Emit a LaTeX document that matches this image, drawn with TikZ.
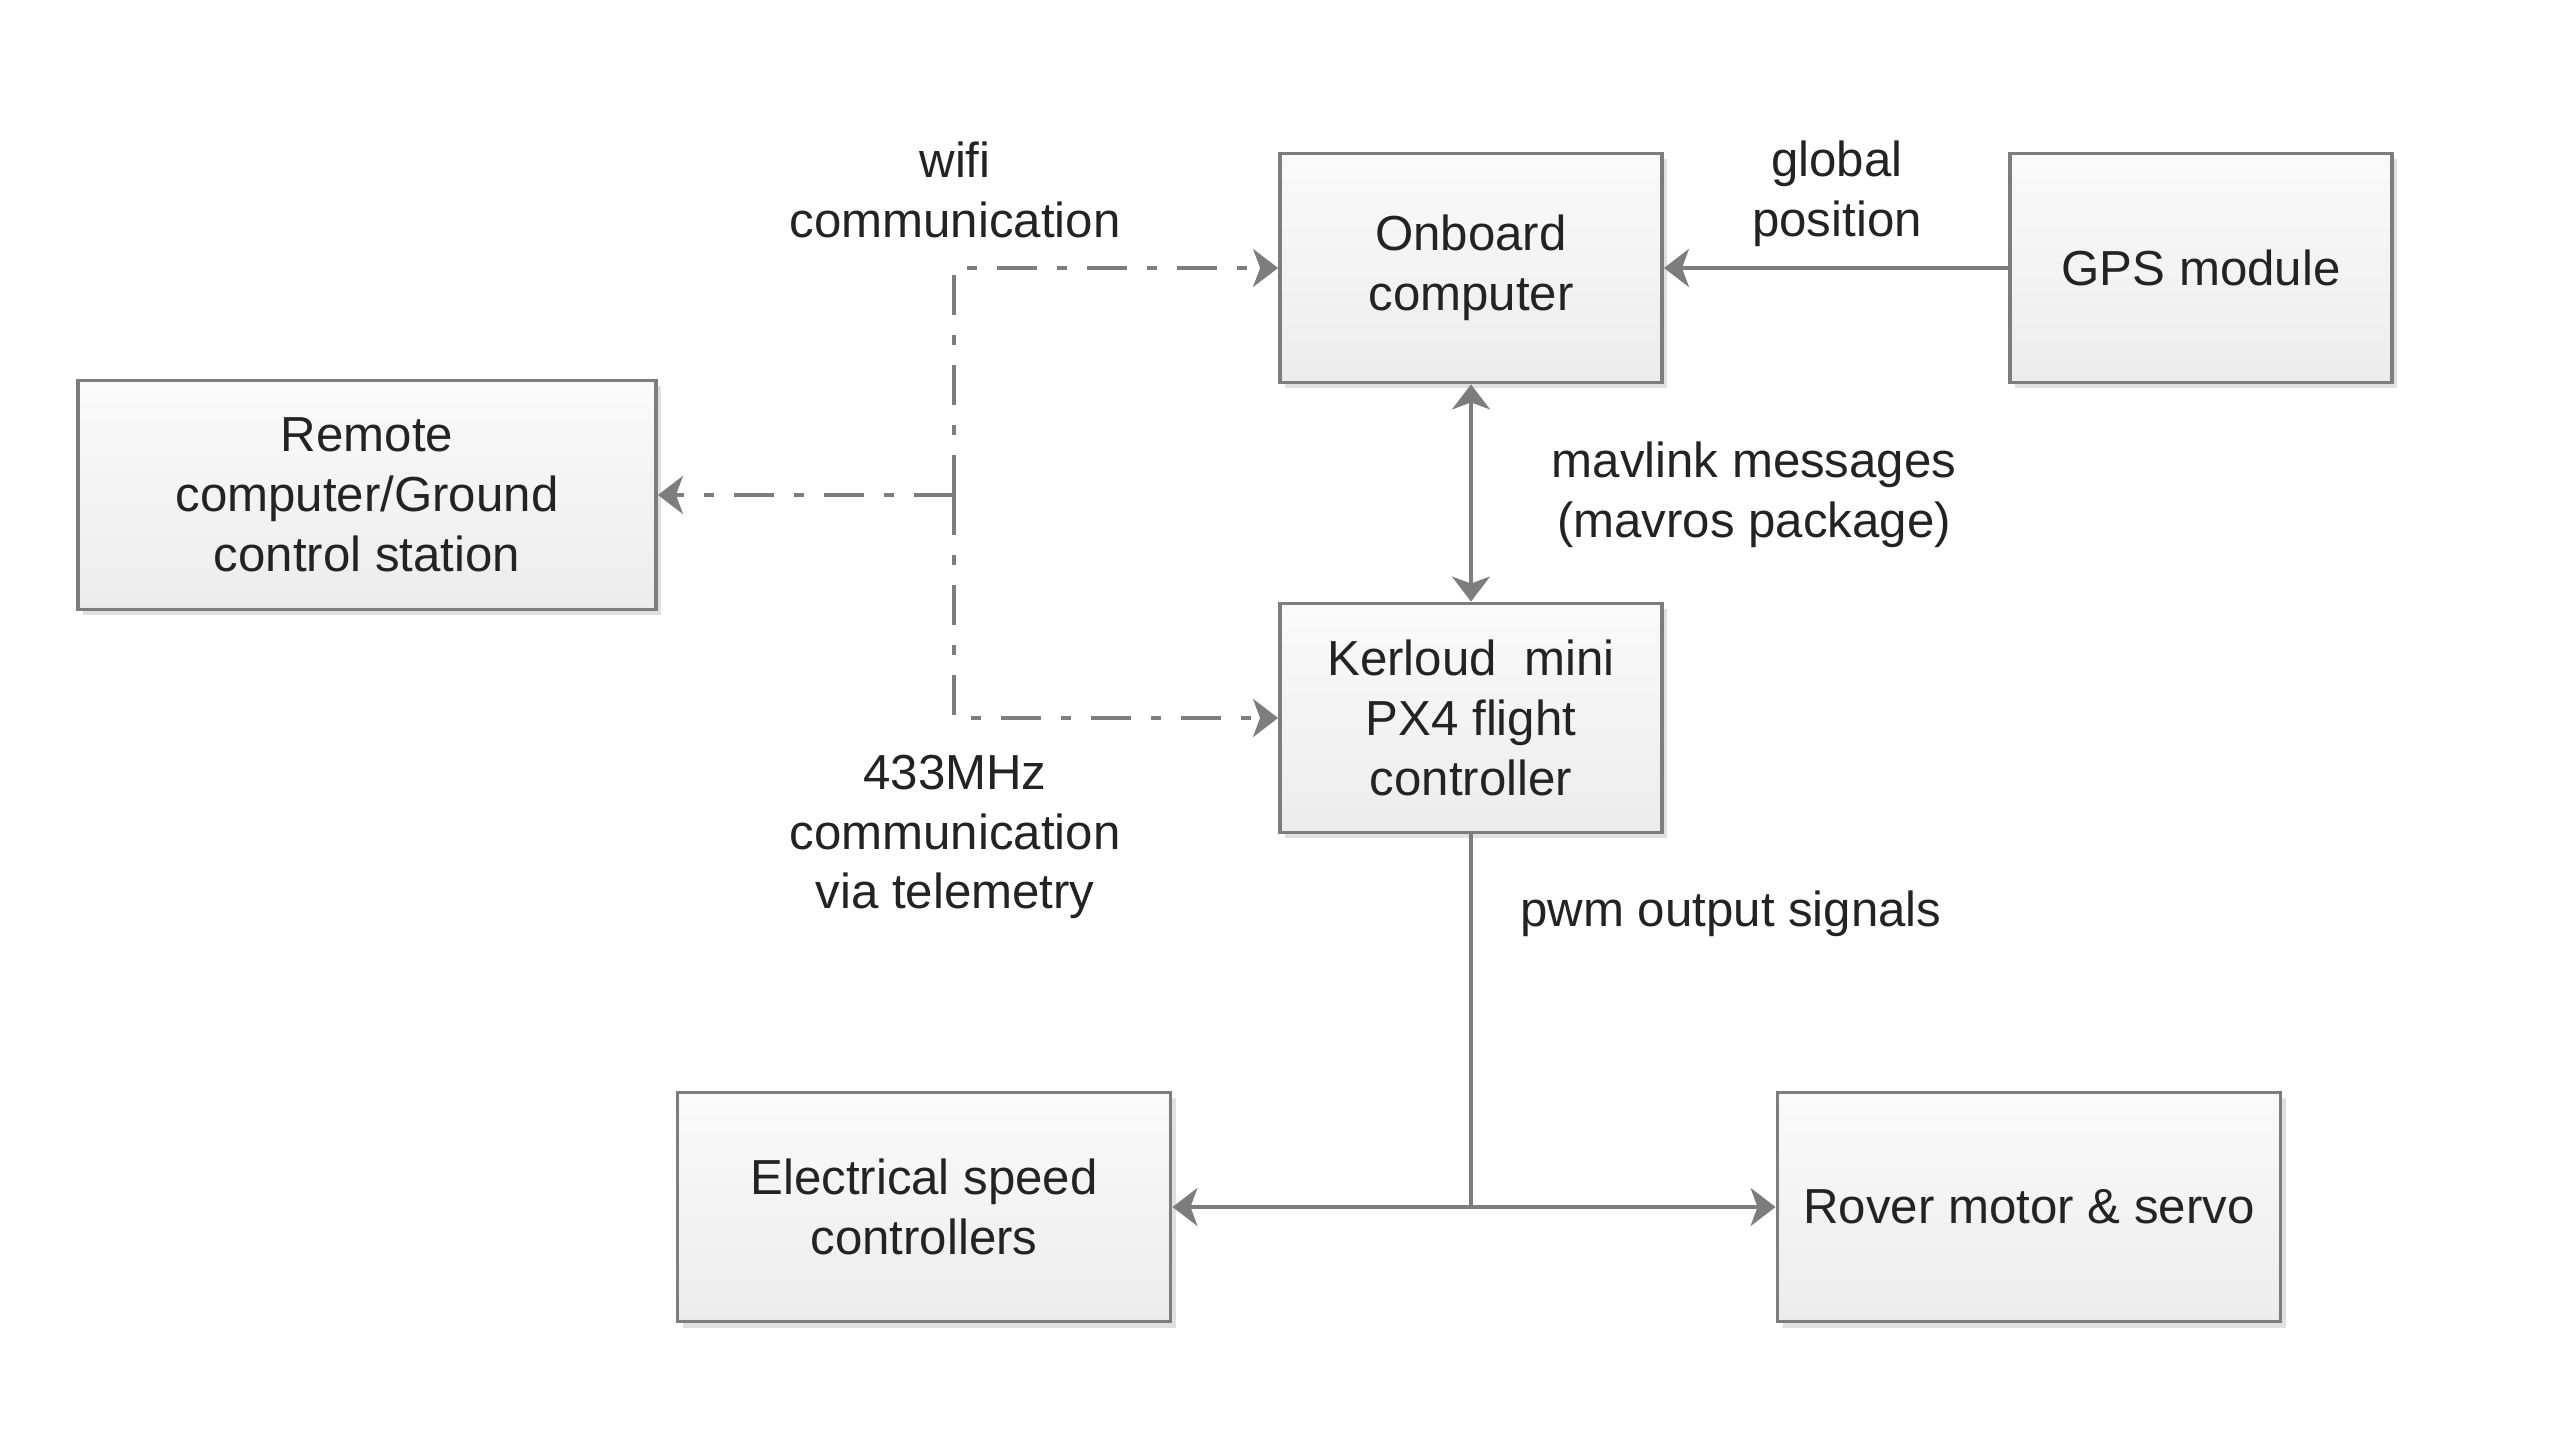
\documentclass[tikz,border=0pt]{standalone}
\usepackage{fontspec}
\setmainfont{Liberation Sans}
\usepackage{tikz}
\usepackage{xcolor}
\usetikzlibrary{arrows.meta,shadows}
\definecolor{linegray}{RGB}{125,125,125}
\definecolor{boxtop}{RGB}{250,250,250}
\definecolor{boxbot}{RGB}{236,236,236}
\definecolor{txtgray}{RGB}{35,35,35}
\tikzstyle{block} = [rectangle, draw=linegray, line width=1.1pt, top color=boxtop, bottom color=boxbot, minimum height=2.29cm, align=center, text=txtgray, drop shadow={shadow xshift=0.5mm, shadow yshift=-0.6mm, fill=black, opacity=0.12}]
\tikzstyle{radio} = [dash pattern=on 4mm off 2mm on 1mm off 2mm]
\tikzstyle{lbl} = [align=center, text=txtgray]

\begin{document}
\begin{tikzpicture}[->,>={Stealth[length=2.5mm,width=3.8mm,inset=0.7mm]},draw=linegray,line width=1pt,font=\fontsize{14}{17}\selectfont,node distance=4.5cm]
  \useasboundingbox (0,0) rectangle (25.6,14.4);
  \node[block, minimum width=3.82cm] (onboard) at (14.71,11.72) {Onboard\\computer};
  \node[block, minimum width=3.82cm] (kerloud) [below of=onboard] {Kerloud~ mini\\PX4 flight\\controller};
  \node[block, minimum width=3.82cm, node distance=7.3cm] (gps) [right of=onboard] {GPS module};
  \node[block, minimum width=5.78cm] (remote) at (3.67,9.45) {Remote\\computer/Ground\\control station};
  \node[block, minimum width=4.93cm] (esc) at (9.24,2.33) {Electrical speed\\controllers};
  \node[block, minimum width=5.03cm] (rover) at (20.29,2.33) {Rover motor \& servo};

  \node[lbl] (wifi) at (9.55,12.50) {wifi\\communication};
  \node[lbl] (telem) at (9.55,6.03) {433MHz\\communication\\via telemetry};
  \node[lbl] (globpos) at (18.37,12.46) {global\\position};
  \node[lbl] (mavlink) at (17.54,9.45) {mavlink messages\\(mavros package)};
  \node[lbl] (pwm) at (17.31,5.26) {pwm output signals};

  \path (remote.east) ++(2.96,0) coordinate (split);
  \coordinate (fork) at (kerloud |- esc);

  \draw[radio] (split) |- (onboard.west);
  \draw[radio] (split) |- (kerloud.west);
  \draw[radio] (split) -- (remote.east);
  \draw (gps) -- (onboard);
  \draw[<->] (onboard) -- (kerloud);
  \draw[-] (kerloud) -- (fork);
  \draw (fork) -- (esc);
  \draw (fork) -- (rover);
\end{tikzpicture}
\end{document}
